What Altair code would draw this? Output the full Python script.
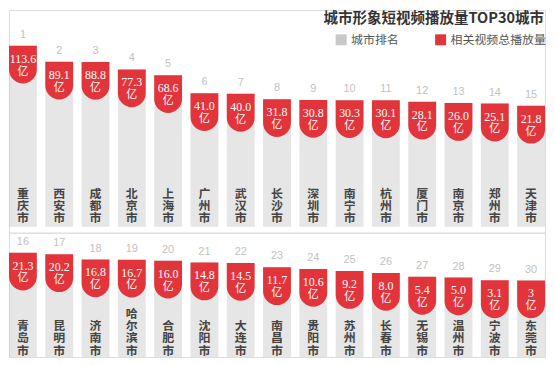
import altair as alt
import pandas as pd

# ---- data ----
cities = ["重庆市", "西安市", "成都市", "北京市", "上海市", "广州市", "武汉市", "长沙市",
          "深圳市", "南宁市", "杭州市", "厦门市", "南京市", "郑州市", "天津市",
          "青岛市", "昆明市", "济南市", "哈尔滨市", "合肥市", "沈阳市", "大连市", "南昌市",
          "贵阳市", "苏州市", "长春市", "无锡市", "温州市", "宁波市", "东莞市"]
views = [113.6, 89.1, 88.8, 77.3, 68.6, 41.0, 40.0, 31.8, 30.8, 30.3, 30.1, 28.1, 26.0, 25.1, 21.8,
         21.3, 20.2, 16.8, 16.7, 16.0, 14.8, 14.5, 11.7, 10.6, 9.2, 8.0, 5.4, 5.0, 3.1, 3.0]
value_labels = ["113.6", "89.1", "88.8", "77.3", "68.6", "41.0", "40.0", "31.8", "30.8", "30.3",
                "30.1", "28.1", "26.0", "25.1", "21.8", "21.3", "20.2", "16.8", "16.7", "16.0",
                "14.8", "14.5", "11.7", "10.6", "9.2", "8.0", "5.4", "5.0", "3.1", "3"]
unit_label = "亿"
title_text = ["城市形象短视频播放量TOP30城市"]
legend_names = ["城市排名", "相关视频总播放量"]
legend_colors = ["#c8c8c8", "#e2353b"]

ranks = list(range(1, len(cities) + 1))
df = pd.DataFrame({
    "city": cities,
    "v": views,
    "label": value_labels,
    "rank": ranks,
    "col": [(r - 1) % 15 + 1 for r in ranks],
    "row": [(r - 1) // 15 for r in ranks],
    "n": [len(c) for c in cities],
    "vert": ["\n".join(c) for c in cities],
})

W = 539
BAR_W = 28
BADGE_H = 38
LINE_H = 12.3
CJK = "Noto Sans CJK SC"
NARROW = "Liberation Sans Narrow"

x_enc = alt.X("col:Q", scale=alt.Scale(domain=[0.6164, 15.3836], nice=False, zero=False,
                                       padding=0),
              axis=None)
color_scale = alt.Scale(domain=legend_names, range=legend_colors)


def make_row(d, domain, H, bottom, text_top3, top_extra=None):
    base = alt.Chart(d)
    y_enc = alt.Y("v:Q", scale=alt.Scale(domain=domain, nice=False, zero=False, padding=0),
                  axis=None, stack=None)
    gray = base.transform_calculate(kind="'城市排名'").mark_bar(
        width=BAR_W, fillOpacity=0.45
    ).encode(
        x=x_enc, y=y_enc, y2=alt.value(bottom),
        color=alt.Color("kind:N", scale=color_scale,
                        legend=alt.Legend(orient="none", legendX=328, legendY=24,
                                          direction="horizontal", title=None,
                                          symbolType="square", symbolSize=121,
                                          symbolStrokeWidth=0, symbolOpacity=1,
                                          labelFontSize=12, labelColor="#555555",
                                          labelFont=CJK, columnPadding=35,
                                          labelOffset=4, padding=0)),
    )
    badge = base.transform_calculate(kind="'相关视频总播放量'").mark_bar(
        width=BAR_W, y2Offset=BADGE_H,
        cornerRadiusBottomLeft=14, cornerRadiusBottomRight=14,
    ).encode(
        x=x_enc, y=y_enc, y2=alt.Y2("v:Q"),
        color=alt.Color("kind:N", scale=color_scale),
    )
    rank_t = base.mark_text(dy=-8, baseline="alphabetic", fontSize=11,
                            color="#c2c2c2", font="Liberation Sans").encode(
        x=x_enc, y=y_enc, text="rank:N")
    val_t = base.mark_text(dy=13, baseline="middle", fontSize=12, font=NARROW,
                           color="white").encode(
        x=x_enc, y=y_enc, text="label:N")
    unit_t = base.mark_text(dy=26, baseline="middle", fontSize=11, font=CJK,
                            color="white").encode(
        x=x_enc, y=y_enc, text=alt.value(unit_label))
    layers = [gray, badge, rank_t, val_t, unit_t]
    for n in sorted(set(d["n"])):
        top = text_top3 - (n - 3) * LINE_H
        layers.append(
            base.transform_filter(alt.datum.n == n).mark_text(
                lineBreak="\n", lineHeight=LINE_H, baseline="top",
                fontSize=12, fontWeight="bold", font=CJK, color="#444444"
            ).encode(x=x_enc, y=alt.value(top), text="vert:N")
        )
    if top_extra is not None:
        layers += top_extra
    return alt.layer(*layers).properties(width=W, height=H)


title_mark = alt.Chart(pd.DataFrame({"t": title_text})).mark_text(
    align="right", baseline="middle", fontSize=14.6, fontWeight="bold",
    font=CJK, color="#333333"
).encode(x=alt.value(538), y=alt.value(9), text="t:N")

row1 = make_row(df[df.row == 0], [-172.2, 168.2], 224, 218, 180, [title_mark])
row2 = make_row(df[df.row == 1], [-47.3, 34.4], 125, 125, 89)

chart = alt.vconcat(row1, row2, spacing=0, bounds="flush").properties(padding=0).configure_view(
    stroke=None
).configure(font=CJK)

chart.save("out.html", embed_options={"renderer": "svg", "actions": False})
